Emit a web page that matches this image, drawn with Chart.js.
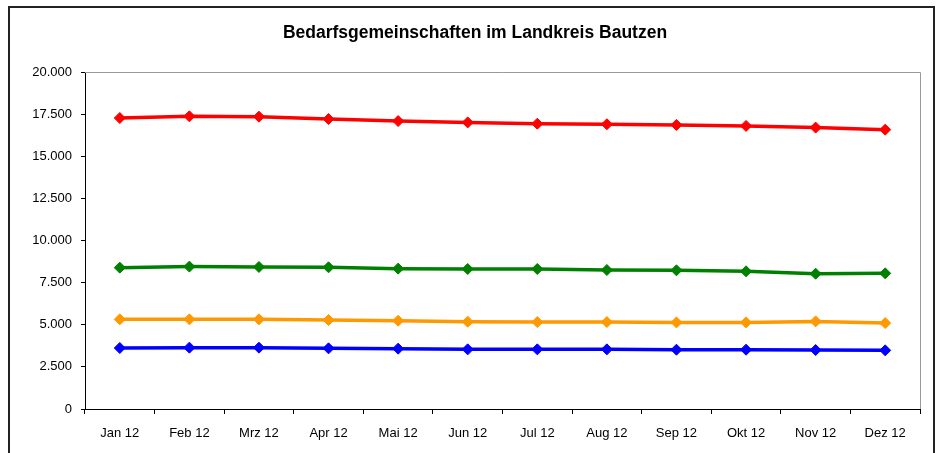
<!DOCTYPE html>
<html>
<head>
<meta charset="utf-8">
<script src="https://cdn.jsdelivr.net/npm/chart.js@4"></script>
<style>
html,body{margin:0;padding:0;background:#fff;}
#wrap{position:absolute;left:0;top:0;width:940px;height:453px;}
</style>
</head>
<body>
<div id="wrap"><canvas id="c" width="940" height="453"></canvas></div>
<script>
const categories = ["Jan 12","Feb 12","Mrz 12","Apr 12","Mai 12","Jun 12","Jul 12","Aug 12","Sep 12","Okt 12","Nov 12","Dez 12"];
const redSeries    = [17270,17370,17350,17210,17090,17010,16930,16900,16860,16800,16700,16580];
const greenSeries  = [8390,8450,8430,8410,8330,8310,8310,8250,8230,8170,8030,8050];
const orangeSeries = [5320,5320,5320,5280,5240,5180,5160,5160,5140,5140,5200,5100];
const blueSeries   = [3620,3640,3640,3600,3580,3540,3540,3540,3520,3520,3500,3480];
const yTicks = [0,2500,5000,7500,10000,12500,15000,17500,20000];
const titleText = "Bedarfsgemeinschaften im Landkreis Bautzen";

function fmt(v){
  const s = Math.round(v).toString();
  return s.replace(/\B(?=(\d{3})+(?!\d))/g, ".");
}

const frame = {
  id:'frame',
  beforeDraw(chart){
    const ctx = chart.ctx;
    ctx.save();
    ctx.fillStyle = '#fff';
    ctx.fillRect(0,0,chart.width,chart.height);
    ctx.strokeStyle = '#222';
    ctx.lineWidth = 2;
    ctx.beginPath();
    ctx.moveTo(9, 460); ctx.lineTo(9, 7); ctx.lineTo(934, 7); ctx.lineTo(934, 460);
    ctx.stroke();
    ctx.fillStyle = '#000';
    ctx.font = 'bold 17.5px "Liberation Sans", Arial, sans-serif';
    ctx.textAlign = 'center';
    ctx.textBaseline = 'middle';
    ctx.fillText(titleText, 475, 33);
    ctx.restore();
  },
  afterDraw(chart){
    const a = chart.chartArea, ctx = chart.ctx;
    ctx.save();
    ctx.strokeStyle = '#999';
    ctx.lineWidth = 1;
    ctx.beginPath();
    ctx.moveTo(a.left, Math.round(a.top)+0.5);
    ctx.lineTo(Math.round(a.right)+0.5, Math.round(a.top)+0.5);
    ctx.lineTo(Math.round(a.right)+0.5, a.bottom);
    ctx.stroke();
    ctx.restore();
  }
};

function ds(label, data, color){
  return {label, data, borderColor: color, backgroundColor: color,
    borderWidth: 3.5, pointStyle: 'rectRot', pointRadius: 5.5, pointHoverRadius: 5.5,
    pointBorderWidth: 1, tension: 0, fill: false};
}

new Chart(document.getElementById('c'), {
  type: 'line',
  data: {
    labels: categories,
    datasets: [
      ds('Rot', redSeries, '#FF0000'),
      ds('Grün', greenSeries, '#008000'),
      ds('Orange', orangeSeries, '#FF9900'),
      ds('Blau', blueSeries, '#0000FF')
    ]
  },
  options: {
    responsive: false,
    animation: false,
    events: [],
    layout: {padding: {left: 0, right: 20, top: 72, bottom: 0}},
    plugins: {legend: {display: false}, title: {display: false}, tooltip: {enabled: false}},
    scales: {
      x: {
        offset: true,
        grid: {offset: true, drawOnChartArea: false, drawTicks: true, tickLength: 5, color: '#000'},
        border: {display: true, color: '#000', width: 1},
        ticks: {color: '#000', font: {family: '"Liberation Sans", Arial, sans-serif', size: 13}, padding: 12, maxRotation: 0, autoSkip: false},
        afterFit(scale){ scale.height = 44; }
      },
      y: {
        min: 0, max: 20000,
        afterBuildTicks(scale){ scale.ticks = yTicks.map(v => ({value: v})); },
        grid: {drawOnChartArea: false, drawTicks: true, tickLength: 4, color: '#000'},
        border: {display: true, color: '#000', width: 1},
        ticks: {color: '#000', font: {family: '"Liberation Sans", Arial, sans-serif', size: 13}, padding: 9, callback: v => fmt(v)},
        afterFit(scale){ scale.width = 85; }
      }
    }
  },
  plugins: [frame]
});
</script>
</body>
</html>
